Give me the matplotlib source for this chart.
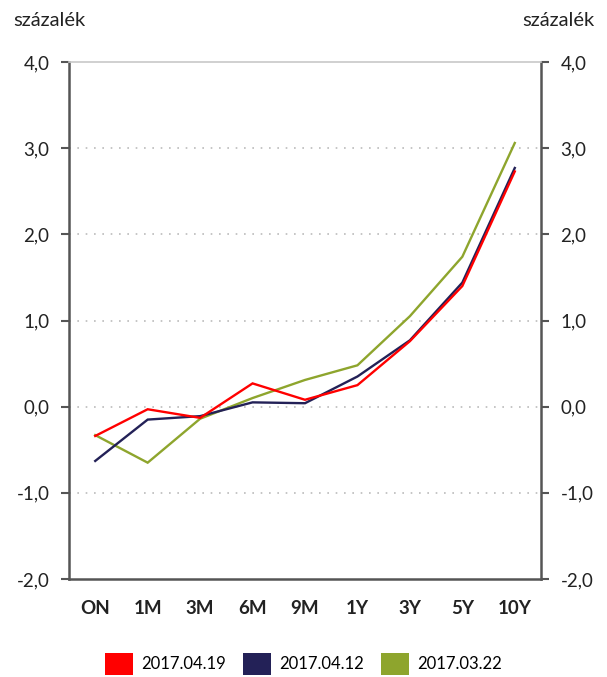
import matplotlib
matplotlib.use("Agg")
import matplotlib.pyplot as plt
from matplotlib.patches import Patch
from matplotlib.ticker import FuncFormatter

plt.rcParams['font.family'] = ['Lato', 'DejaVu Sans']

categories = ["ON", "1M", "3M", "6M", "9M", "1Y", "3Y", "5Y", "10Y"]
s_0419 = [-0.34, -0.03, -0.13, 0.27, 0.08, 0.25, 0.76, 1.40, 2.73]
s_0412 = [-0.63, -0.15, -0.11, 0.05, 0.04, 0.35, 0.77, 1.44, 2.77]
s_0322 = [-0.33, -0.65, -0.14, 0.10, 0.31, 0.48, 1.05, 1.74, 3.06]
labels = ["2017.04.19", "2017.04.12", "2017.03.22"]
colors = ["#FF0000", "#232157", "#8EA52D"]
yticks = [-2, -1, 0, 1, 2, 3, 4]

fig = plt.figure(figsize=(6.07, 6.77), dpi=100)
ax = fig.add_axes([69/607, 1-579/677, (541-69)/607, (579-62)/677])

x = list(range(len(categories)))
for data, c in zip([s_0322, s_0412, s_0419], [colors[2], colors[1], colors[0]]):
    ax.plot(x, data, color=c, lw=1.7, solid_joinstyle='miter')

ax.set_xlim(-0.5, len(categories) - 0.5)
ax.set_ylim(-2, 4)
ax.set_yticks(yticks)
fmt = FuncFormatter(lambda v, p: f"{v:.1f}".replace(".", ","))
ax.yaxis.set_major_formatter(fmt)
for yv in yticks[1:-1]:
    ax.axhline(yv, color="#BBBBBB", lw=1.2, ls=(0, (1, 4)), zorder=0)

ax.set_xticks(x)
ax.set_xticklabels(categories, fontweight='bold', fontsize=13.5, color="#222222")
ax.tick_params(axis='x', length=0, pad=15)
ax.tick_params(axis='y', direction='out', length=6, width=1.5, color="#555555",
               labelsize=13.5, labelcolor="#222222", pad=8, right=True, labelright=True)

for side in ['left', 'right', 'bottom']:
    ax.spines[side].set_color("#555555")
    ax.spines[side].set_linewidth(1.8)
ax.spines['top'].set_color("#C8C8C8")
ax.spines['top'].set_linewidth(1.2)

fig.text(13/607, 1-20/677, "százalék", fontsize=14.5, color="#222222", va='center', ha='left')
fig.text(595/607, 1-20/677, "százalék", fontsize=14.5, color="#222222", va='center', ha='right')

handles = [Patch(facecolor=c, edgecolor='none') for c in colors]
fig.legend(handles, labels, loc='center', bbox_to_anchor=(0.5, 1-664/677), ncol=3,
           frameon=False, fontsize=12, handlelength=1.7, handleheight=1.7,
           handletextpad=0.5, columnspacing=1.0)

fig.savefig("out.png", dpi=100)
